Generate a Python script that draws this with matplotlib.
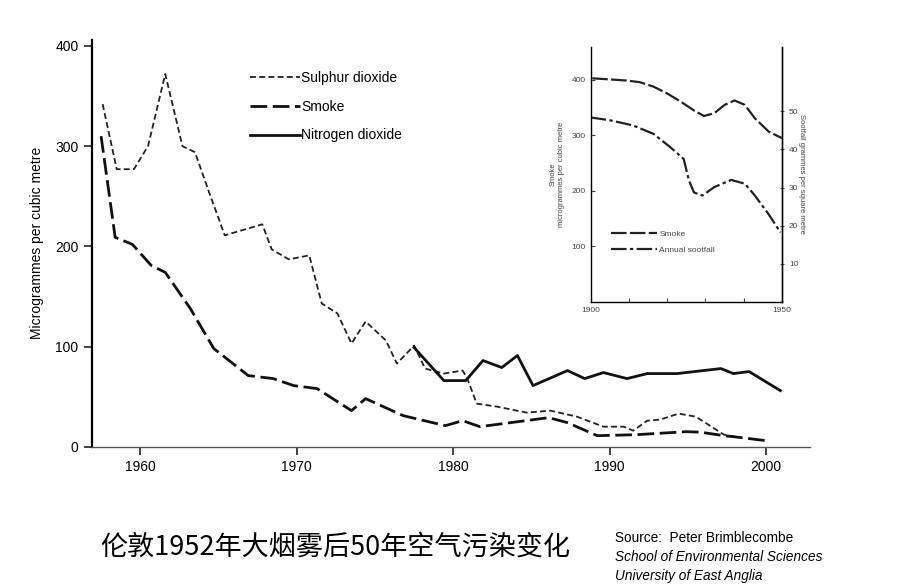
import matplotlib
matplotlib.use("Agg")
from matplotlib import pyplot as plt

plt.rcParams['font.family'] = ['Liberation Sans', 'DejaVu Sans']

# main chart data
so2_years = [1957.6, 1958.5, 1959.6, 1960.5, 1961.6, 1962.7, 1963.5, 1964.4, 1965.4,
             1967.8, 1968.4, 1969.5, 1970.8, 1971.6, 1972.6, 1973.5, 1974.4, 1975.7,
             1976.4, 1977.5, 1978.2, 1979.4, 1980.6, 1980.9, 1981.5, 1982.8, 1984.7,
             1986.2, 1987.9, 1989.6, 1990.9, 1991.5, 1992.4, 1993.2, 1994.4, 1995.5,
             1997.3, 1998.0]
so2_values = [342, 277, 277, 300, 372, 300, 294, 254, 211,
              222, 197, 187, 191, 143, 133, 103, 125, 106,
              83, 101, 78, 73, 76, 68, 43, 40, 34,
              36, 30, 20, 20, 16, 26, 27, 33, 30,
              12, 10]

smoke_years = [1957.5, 1958.4, 1959.5, 1960.7, 1961.6, 1963.2, 1964.7, 1966.9, 1968.5,
               1969.8, 1971.3, 1973.5, 1974.4, 1976.8, 1979.5, 1980.6, 1981.7, 1986.1,
               1987.3, 1989.2, 1991.7, 1994.9, 1995.8, 1997.3, 1997.9, 2000.0]
smoke_values = [310, 209, 202, 181, 174, 138, 98, 71, 68,
                61, 58, 36, 48, 31, 21, 26, 20, 29,
                24, 11, 12, 15, 14.5, 11, 10, 6]

no2_years = [1977.5, 1979.4, 1980.8, 1981.9, 1983.1, 1984.1, 1985.1, 1987.3, 1988.4,
             1989.6, 1991.1, 1992.4, 1994.3, 1997.1, 1997.9, 1998.9, 2000.9]
no2_values = [99, 66, 66, 86, 79, 91, 61, 76, 68,
              74, 68, 73, 73, 78, 73, 75, 56]

# inset data (1900-1950)
inset_smoke_years = [1900.4, 1904.9, 1909.3, 1912.8, 1916.4, 1919.9, 1923.5, 1927.0,
                     1929.6, 1932.3, 1935.0, 1937.6, 1940.3, 1942.9, 1946.5, 1950.0]
inset_smoke_values = [403, 401, 399, 396, 388, 376, 361, 345,
                      335, 340, 355, 363, 355, 331, 307, 295]
sootfall_years = [1900.0, 1904.9, 1911.1, 1916.4, 1920.8, 1924.3, 1925.7, 1927.0,
                  1929.2, 1932.3, 1936.7, 1940.3, 1942.9, 1946.5, 1949.6]
sootfall_values = [48.4, 47.7, 46.3, 44.1, 40.6, 37.5, 31.8, 28.7,
                   27.9, 30.1, 32.0, 31.0, 27.9, 23.0, 18.2]

fig = plt.figure(figsize=(8.98, 5.88), dpi=100)

# main axes
ax = fig.add_axes([0.1021, 0.2403, 0.8000, 0.6917])
ax.plot(so2_years, so2_values, color='#222222', lw=1.3, dashes=(3.3, 1.8), label='Sulphur dioxide')
ax.plot(smoke_years, smoke_values, color='#111111', lw=2.0, dashes=(6, 2), label='Smoke')
ax.plot(no2_years, no2_values, color='#111111', lw=2.0, label='Nitrogen dioxide')
ax.set_xlim(1956.9, 2002.8)
ax.set_ylim(0, 406)
ax.set_xticks([1960, 1970, 1980, 1990, 2000])
ax.set_yticks([0, 100, 200, 300, 400])
ax.spines['top'].set_visible(False)
ax.spines['right'].set_visible(False)
ax.spines['left'].set_linewidth(1.6)
ax.spines['bottom'].set_linewidth(1.0)
ax.spines['bottom'].set_color('#555555')
ax.tick_params(axis='both', labelsize=10, length=6, width=1.2, color='#222222')
ax.set_ylabel('Microgrammes per cubic metre', fontsize=10, labelpad=8)
ax.legend(loc='upper left', bbox_to_anchor=(0.264, 0.90), bbox_transform=fig.transFigure,
          frameon=False, fontsize=10, handlelength=3.6, handletextpad=0.1,
          labelspacing=1.05)

# inset axes
ins = fig.add_axes([0.6578, 0.4869, 0.2130, 0.4337])
ins.plot(inset_smoke_years, inset_smoke_values, color='#222222', lw=1.6,
         dashes=(7, 1.5), label='Smoke')
ins.set_xlim(1900, 1950)
ins.set_ylim(0, 460)
ins.set_xticks([1900, 1910, 1920, 1930, 1940, 1950])
ins.set_xticklabels(['1900', '', '', '', '', '1950'])
ins.set_yticks([100, 200, 300, 400])
ins.spines['top'].set_visible(False)
for s in ins.spines.values():
    s.set_linewidth(1.0)
    s.set_color('#333333')
ins.tick_params(axis='both', labelsize=6, length=3, direction='in', colors='#444444')
ins.set_ylabel('Smoke\nmicrogrammes per cubic metre', fontsize=5.5, color='#444444', labelpad=5)

ins2 = ins.twinx()
ins2.plot(sootfall_years, sootfall_values, color='#222222', lw=1.6,
          dashes=(7, 1.5, 1.5, 1.5), label='Annual sootfall')
ins2.set_ylim(0, 67)
ins2.set_yticks([10, 20, 30, 40, 50])
ins2.spines['top'].set_visible(False)
ins2.spines['right'].set_linewidth(1.0)
ins2.tick_params(axis='y', labelsize=6, length=3, direction='inout', colors='#444444')
ins2.set_ylabel('Sootfall grammes per square metre', fontsize=5.5, color='#444444',
                rotation=-90, labelpad=5)

h1, l1 = ins.get_legend_handles_labels()
h2, l2 = ins2.get_legend_handles_labels()
ins2.legend(h1 + h2, l1 + l2, loc='upper left', bbox_to_anchor=(0.672, 0.622),
            bbox_transform=fig.transFigure, frameon=False, fontsize=6,
            handlelength=5.5, handletextpad=0.3, labelspacing=1.0, labelcolor='#444444')

# caption and source
fig.text(0.373, 0.0697, '伦敦1952年大烟雾后50年空气污染变化', fontsize=19.5,
         ha='center', va='center', family=['Noto Sans CJK SC', 'DejaVu Sans'])
fig.text(0.685, 0.085, 'Source:  Peter Brimblecombe', fontsize=9.8, va='center')
fig.text(0.685, 0.053, 'School of Environmental Sciences', fontsize=9.8, va='center',
         style='italic')
fig.text(0.685, 0.021, 'University of East Anglia', fontsize=9.8, va='center',
         style='italic')

fig.savefig('out.png', dpi=100)
